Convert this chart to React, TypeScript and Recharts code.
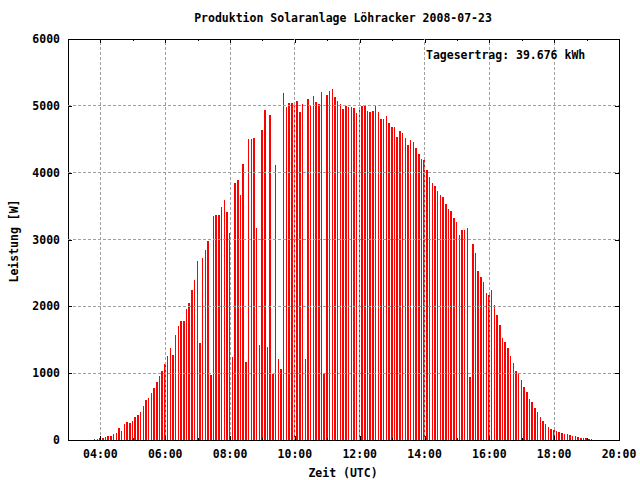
import React from 'react';
import { ComposedChart, Bar, XAxis, YAxis, ReferenceLine, ReferenceArea } from 'recharts';

// Sampling: first sample at 03:50 UTC, one sample every 5 minutes
const START_TIME = '03:50';
const STEP_MINUTES = 5;

// Power in W, one value per 5-minute sample (03:50 ... 19:10)
const POWER_W = [
  15, 15, 25, 35, 50, 60, 60, 90, 105, 180, 135, 240,
  270, 255, 285, 345, 375, 420, 510, 600, 630, 705, 780, 870,
  960, 1035, 1140, 1260, 1380, 1275, 1575, 1710, 1785, 1785, 1965, 2055,
  2250, 2400, 2680, 1450, 2730, 2850, 2985, 975, 3345, 3360, 3360, 3480,
  3585, 3405, 3090, 1245, 3840, 3885, 3660, 4125, 1170, 4500, 4500, 4515,
  3165, 1425, 4635, 4935, 1395, 4860, 990, 4110, 1215, 1065, 5190, 4980,
  5040, 5040, 5055, 5070, 4905, 5025, 1215, 5100, 5010, 5145, 5055, 5025,
  5205, 990, 5160, 5220, 5250, 5130, 5070, 5025, 4950, 4995, 4980, 4980,
  4965, 4890, 4965, 4995, 5010, 4920, 4905, 4920, 5010, 4905, 4800, 4800,
  4845, 4740, 4680, 4680, 4530, 4620, 4590, 4515, 4410, 4485, 4455, 4365,
  4275, 4200, 4185, 4035, 3930, 3840, 3795, 3720, 3660, 3630, 3525, 3450,
  3420, 3315, 3255, 3060, 3135, 3135, 3165, 945, 2940, 2805, 2535, 2445,
  2370, 2205, 2175, 2250, 2025, 1875, 1725, 1530, 1470, 1380, 1260, 1155,
  1035, 1005, 900, 795, 720, 615, 570, 480, 420, 345, 285, 240,
  195, 165, 155, 135, 120, 105, 90, 90, 75, 60, 60, 45,
  30, 30, 30, 15, 15,
];

const X_DOMAIN = [3, 20];
const X_TICKS = [4, 5, 6, 7, 8, 9, 10, 11, 12, 13, 14, 15, 16, 17, 18, 19, 20];
const X_GRID = [4, 6, 8, 10, 12, 14, 16, 18];
const Y_DOMAIN = [0, 6000];
const Y_TICKS = [0, 1000, 2000, 3000, 4000, 5000, 6000];
const Y_GRID = [1000, 2000, 3000, 4000, 5000];

const TITLE = 'Produktion Solaranlage Löhracker 2008-07-23';
const DAILY_YIELD = 'Tagesertrag: 39.676 kWh';
const X_LABEL = 'Zeit (UTC)';
const Y_LABEL = 'Leistung [W]';

const [sh, sm] = START_TIME.split(':').map(Number);
const START_HOUR = sh + sm / 60;
const data = POWER_W.map((w, i) => ({ t: START_HOUR + (i * STEP_MINUTES) / 60, w }));

const W = 640;
const H = 480;
const PLOT_LEFT = 68;
const PLOT_RIGHT = 619;
const PLOT_TOP = 39;
const PLOT_BOTTOM = 440;
const FONT = '"DejaVu Sans Mono", monospace';
const FONT_SIZE = 11.5;
const IMPULSE_WIDTH = 1.5;

const fmtHour = (h: number) => `${String(h).padStart(2, '0')}:00`;

const XTick = (props: any) => {
  const { x, payload } = props;
  const h = payload.value as number;
  const major = h % 2 === 0;
  const len = major ? 4 : 2;
  const xx = Math.round(x) + 0.5;
  return (
    <g>
      <line x1={xx} x2={xx} y1={PLOT_BOTTOM} y2={PLOT_BOTTOM - len} stroke="#000" strokeWidth={1} />
      <line x1={xx} x2={xx} y1={PLOT_TOP} y2={PLOT_TOP + len} stroke="#000" strokeWidth={1} />
      {major && (
        <text x={x} y={458} textAnchor="middle" fontFamily={FONT} fontSize={FONT_SIZE} fontWeight="bold" fill="#000">
          {fmtHour(h)}
        </text>
      )}
    </g>
  );
};

const YTick = (props: any) => {
  const { y, payload } = props;
  const yy = Math.round(y) + 0.5;
  return (
    <g>
      <line x1={PLOT_LEFT} x2={PLOT_LEFT + 4} y1={yy} y2={yy} stroke="#000" strokeWidth={1} />
      <line x1={PLOT_RIGHT} x2={PLOT_RIGHT - 4} y1={yy} y2={yy} stroke="#000" strokeWidth={1} />
      <text x={60} y={y + 4} textAnchor="end" fontFamily={FONT} fontSize={FONT_SIZE} fontWeight="bold" fill="#000">
        {payload.value}
      </text>
    </g>
  );
};

const Impulse = (props: any) => {
  const { x, y, width, height } = props;
  if (height == null || height <= 0) return null;
  const cx = x + width / 2;
  return (
    <rect
      x={cx - IMPULSE_WIDTH / 2}
      y={y}
      width={IMPULSE_WIDTH}
      height={height}
      fill="#ff0000"
      shapeRendering="crispEdges"
    />
  );
};

export default function App() {
  return (
    <div style={{ position: 'absolute', left: 0, top: 0, width: W, height: H, background: '#fff' }}>
      <ComposedChart
        width={W}
        height={H}
        data={data}
        margin={{ top: PLOT_TOP, right: W - PLOT_RIGHT, bottom: H - PLOT_BOTTOM - 30, left: PLOT_LEFT - 60 }}
      >
        <XAxis
          type="number"
          dataKey="t"
          domain={X_DOMAIN}
          ticks={X_TICKS}
          interval={0}
          allowDataOverflow
          height={30}
          axisLine={false}
          tickLine={false}
          tick={<XTick />}
        />
        <YAxis
          type="number"
          domain={Y_DOMAIN}
          ticks={Y_TICKS}
          interval={0}
          width={60}
          axisLine={false}
          tickLine={false}
          tick={<YTick />}
        />
        {X_GRID.map((h) => (
          <ReferenceLine key={'gx' + h} x={h} stroke="#a0a0a0" strokeDasharray="3 2" strokeWidth={1} shapeRendering="crispEdges" />
        ))}
        {Y_GRID.map((v) => (
          <ReferenceLine key={'gy' + v} y={v} stroke="#a0a0a0" strokeDasharray="3 2" strokeWidth={1} shapeRendering="crispEdges" />
        ))}
        <Bar dataKey="w" fill="#ff0000" barSize={2} shape={<Impulse />} isAnimationActive={false} />
        <ReferenceArea
          x1={X_DOMAIN[0]}
          x2={X_DOMAIN[1]}
          y1={Y_DOMAIN[0]}
          y2={Y_DOMAIN[1]}
          fill="none"
          fillOpacity={0}
          stroke="#000"
          strokeWidth={1}
          strokeOpacity={1}
          ifOverflow="visible"
          shapeRendering="crispEdges"
        />
      </ComposedChart>
      <svg width={W} height={H} style={{ position: 'absolute', left: 0, top: 0, pointerEvents: 'none' }}>
        <g fontFamily={FONT} fontSize={FONT_SIZE} fontWeight="bold" fill="#000">
          <text x={343} y={22} textAnchor="middle">{TITLE}</text>
          <text x={426} y={59}>{DAILY_YIELD}</text>
          <text x={343} y={477} textAnchor="middle">{X_LABEL}</text>
          <text x={18} y={241} textAnchor="middle" transform="rotate(-90 18 241)">{Y_LABEL}</text>
        </g>
      </svg>
    </div>
  );
}
